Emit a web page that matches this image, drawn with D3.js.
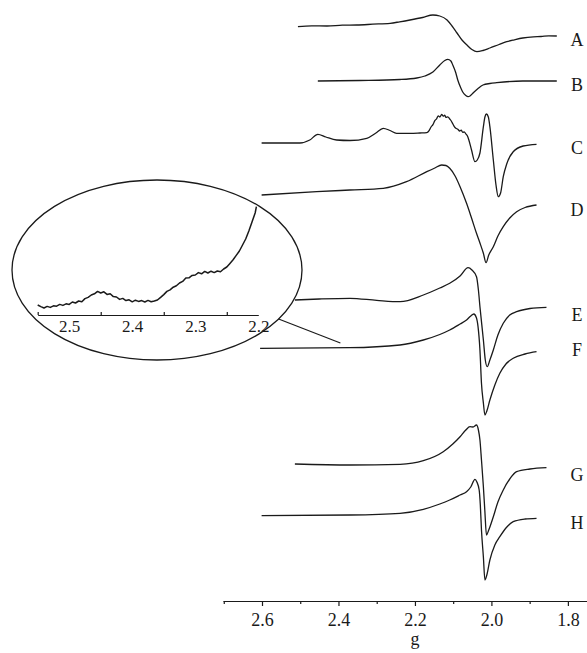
<!DOCTYPE html>
<html><head><meta charset="utf-8">
<script src="https://cdn.jsdelivr.net/npm/d3@7"></script>
<style>
html,body{margin:0;padding:0;background:#fff;}
svg{display:block;font-family:"Liberation Serif","Times New Roman",serif;}
</style></head>
<body><svg id="c" width="587" height="653"></svg>
<script>
// ---- data (g-value, intensity in arbitrary units relative to baseline) ----
const labels = ["A","B","C","D","E","F","G","H"];
const offsets = [287, 259.5, 228.5, 202.5, 150, 126, 68, 42];
const gA = [2.506,2.47,2.43,2.39,2.352,2.31,2.265,2.24,2.213,2.18,2.153,2.135,2.116,2.103,2.090,2.077,2.064,2.051,2.038,2.022,2.004,1.98,1.960,1.94,1.918,1.89,1.87,1.85,1.829];
const iA = [-0.35,0.1,0,0.4,0.5,0.9,1.35,2.1,3,4.25,5.5,5,3,0,-3.5,-7,-9.5,-11.75,-12.85,-12.25,-11,-9.25,-7.85,-6.9,-6,-5.4,-5.25,-4.9,-5];
const gB = [2.454,2.344,2.239,2.195,2.174,2.153,2.135,2.122,2.114,2.106,2.101,2.093,2.088,2.080,2.075,2.067,2.061,2.056,2.048,2.035,2.022,2.004,1.986,1.918,1.829];
const iB = [0,0.25,0.75,1.5,2.5,4.5,8,10.25,10.85,10,8,4,0.5,-3.5,-5.5,-7.25,-7.85,-7.5,-6,-3.75,-2,-1.25,-0.85,0,0];
const gC = [2.601,2.501,2.475,2.454,2.433,2.405,2.370,2.326,2.302,2.283,2.265,2.248,2.213,2.187,2.169,2.163,2.158,2.153,2.148,2.143,2.139,2.135,2.130,2.126,2.122,2.119,2.114,2.109,2.105,2.101,2.097,2.093,2.088,2.083,2.079,2.075,2.071,2.067,2.063,2.059,2.052,2.043,2.037,2.030,2.021,2.017,2.013,2.008,2.004,1.995,1.988,1.982,1.976,1.969,1.960,1.943,1.917,1.882];
const iC = [0,0,1.5,4.35,3,1.5,1.25,2.35,5,7.35,6.25,4.85,4.85,5,5.15,6.2,8,9.2,11.15,12.2,13.6,13.0,14.3,13.4,13.9,12.8,13.1,12.0,11.0,9.6,8.2,7.4,6.9,6.0,6.4,5.3,5.6,4.6,3.6,1.5,-3.5,-9.35,-8.5,-5,8.15,13,14.5,13,8.15,-8.5,-21,-26.85,-25,-16.85,-10.5,-4.35,-1.5,-0.65];
const gD = [2.601,2.457,2.370,2.283,2.222,2.169,2.148,2.130,2.119,2.109,2.095,2.082,2.065,2.052,2.039,2.030,2.021,2.014,2.007,1.995,1.983,1.969,1.952,1.934,1.912,1.882];
const iD = [0,1.65,2.5,3.35,6.65,11.65,13.5,15,14.75,13.35,9.5,4.15,-4.15,-11.5,-19.15,-24,-29.15,-33.85,-30,-25.85,-20.5,-15.85,-11.5,-8.35,-6.25,-5];
const gE = [2.514,2.45,2.370,2.30,2.239,2.178,2.135,2.109,2.082,2.061,2.051,2.039,2.034,2.030,2.021,2.016,2.011,2.004,1.995,1.983,1.969,1.952,1.934,1.899,1.856];
const iE = [0,0.5,0.85,-0.2,-0.85,2.5,6,8.35,12,16.15,15,11.65,5,-3.35,-20,-30,-33.35,-30,-25,-17.5,-11.65,-7.5,-5.85,-4.25,-3.65];
const gF = [2.605,2.370,2.239,2.178,2.135,2.109,2.082,2.065,2.054,2.046,2.039,2.035,2.030,2.026,2.021,2.017,2.012,2.004,1.991,1.978,1.962,1.943,1.912,1.882];
const iF = [-0.15,0.15,1.5,4,6.75,9,12,14,16,17,15,10.65,-1,-17.65,-27.5,-33.5,-31.5,-26,-18.5,-12.65,-8,-5.15,-3,-1.85];
const gG = [2.514,2.370,2.239,2.178,2.126,2.101,2.082,2.067,2.056,2.048,2.039,2.034,2.030,2.026,2.021,2.017,2.013,2.007,1.995,1.983,1.969,1.952,1.934,1.899,1.856];
const iG = [0,-0.5,-0.15,1.65,6.15,10,13.65,17,18.65,18.5,19.5,17,12,2,-11.35,-24,-35.5,-33,-26.35,-19,-13,-7.5,-3.85,-2.5,-1.85];
const gH = [2.601,2.370,2.239,2.178,2.135,2.109,2.082,2.065,2.054,2.043,2.038,2.032,2.029,2.026,2.021,2.017,2.012,2.004,1.991,1.978,1.962,1.943,1.912,1.882];
const iH = [0.15,0.5,1.35,3.35,6,8,10.5,12.15,14.5,18.35,17,13,5.5,-7,-20.5,-32,-29.5,-22,-14.5,-10.35,-6,-2.85,-1.5,-1.15];
// inset: magnified low-field part of spectrum F
const gInset = [2.550,2.545,2.540,2.535,2.530,2.525,2.520,2.515,2.510,2.505,2.500,2.495,2.490,2.485,2.480,2.475,2.470,2.465,2.460,2.455,2.450,2.445,2.440,2.435,2.430,2.425,2.420,2.415,2.410,2.405,2.400,2.395,2.390,2.385,2.380,2.375,2.370,2.365,2.360,2.355,2.350,2.345,2.340,2.335,2.330,2.325,2.320,2.315,2.310,2.305,2.300,2.295,2.290,2.285,2.280,2.275,2.270,2.265,2.260,2.255,2.250,2.245,2.240,2.235,2.230,2.225,2.220,2.215,2.210,2.205,2.203];
const iInset = [5,4.2,3.5,4.3,3.8,4.6,4.4,5.3,4.8,5.6,5.3,6.5,6.0,7.0,6.6,8.2,8.8,10.0,10.6,11.8,11.0,11.6,10.3,10.6,9.2,9.0,7.8,8.3,7.2,7.6,6.6,7.4,6.8,7.2,6.5,7.3,6.6,7.0,7.5,8.8,10.2,11.8,12.6,13.9,14.6,16.0,16.8,18.5,18.6,19.8,20.0,21.2,20.6,21.8,21.0,21.9,21.2,22.0,21.6,23.0,24.0,25.8,27.6,29.8,32.0,35.0,38.0,42.0,46.5,51.0,54.2];
const mainTicks = [2.6,2.4,2.2,2.0,1.8];
const mainMinor = [2.7,2.5,2.3,2.1,1.9];
const insetTicks = [2.5,2.4,2.3,2.2];
const insetMinor = [2.55,2.45,2.35,2.25];
const xLabel = "g";

const gs = [gA,gB,gC,gD,gE,gF,gG,gH];
const is = [iA,iB,iC,iD,iE,iF,iG,iH];

const svg = d3.select("#c");
const ink = "#1a1a1a";
const FONT = "'Liberation Serif','Times New Roman',serif";
const x = d3.scaleLinear().domain([2.702, 1.750]).range([223, 587]);
const y = d3.scaleLinear().domain([0, 300]).range([600, 0]);
const line = d3.line().x(d => d[0]).y(d => d[1]).curve(d3.curveMonotoneX);
const labelNudge = [4, 4, 4, 5, 8, -2, 7, 5];

const gSpec = svg.append("g");
gs.forEach((g, k) => {
  const pts = g.map((v, j) => [x(v), y(offsets[k] + is[k][j])]);
  gSpec.append("path").attr("d", line(pts)).attr("fill","none")
    .attr("stroke", ink).attr("stroke-width", 1.3).attr("stroke-linejoin","round");
  const last = pts[pts.length-1];
  svg.append("text").attr("x", 577).attr("y", last[1] + labelNudge[k])
    .attr("text-anchor","middle").attr("dominant-baseline","central")
    .attr("font-family", FONT).attr("font-size", 18).attr("fill", ink).text(labels[k]);
});

// main axis
const axisG = svg.append("g").attr("transform","translate(0,601)");
axisG.call(d3.axisBottom(x).tickValues(mainTicks).tickFormat(d3.format(".1f")).tickSize(5).tickSizeOuter(0));
axisG.append("g").call(d3.axisBottom(x).tickValues(mainMinor).tickFormat("").tickSize(3).tickSizeOuter(0))
  .select(".domain").remove();
axisG.selectAll("path,line").attr("stroke", ink).attr("stroke-width", 1.2);
axisG.attr("font-family", FONT);
axisG.selectAll("text").attr("font-family", FONT).attr("font-size", 18)
  .attr("fill", ink).attr("dy", null).attr("y", 25);
svg.append("text").attr("x", x(2.2)).attr("y", 645).attr("text-anchor","middle")
  .attr("font-family", FONT).attr("font-size", 18).attr("fill", ink).text(xLabel);

// inset ellipse
const cx = 157, cy = 270, rx = 145, ry = 90;
svg.append("ellipse").attr("cx",cx).attr("cy",cy).attr("rx",rx).attr("ry",ry)
  .attr("fill","#fff").attr("stroke",ink).attr("stroke-width",1.3);
const th = 33*Math.PI/180;
svg.append("line").attr("x1", cx + rx*Math.cos(th)).attr("y1", cy + ry*Math.sin(th))
  .attr("x2", x(2.395)).attr("y2", y(offsets[5]) - 5).attr("stroke", ink).attr("stroke-width", 1.2);

const xi = d3.scaleLinear().domain([2.55, 2.2]).range([37.7, 258.3]);
const yi = d3.scaleLinear().domain([0, 50]).range([315, 215]);
svg.append("path").attr("d", d3.line().x(d=>d[0]).y(d=>d[1])(gInset.map((v,j)=>[xi(v), yi(iInset[j])])))
  .attr("fill","none").attr("stroke",ink).attr("stroke-width",1.5).attr("stroke-linejoin","round");
const iax = svg.append("g").attr("transform","translate(0,315)");
iax.call(d3.axisBottom(xi).tickValues(insetTicks).tickFormat(d3.format(".1f")).tickSize(0).tickSizeOuter(0));
iax.append("g").call(d3.axisTop(xi).tickValues(insetMinor).tickFormat("").tickSize(3).tickSizeOuter(0))
  .select(".domain").remove();
iax.selectAll("path,line").attr("stroke", ink).attr("stroke-width", 1.2);
iax.attr("font-family", FONT);
iax.selectAll("text").attr("font-family", FONT).attr("font-size", 17)
  .attr("fill", ink).attr("dy", null).attr("y", 17);
</script></body></html>
